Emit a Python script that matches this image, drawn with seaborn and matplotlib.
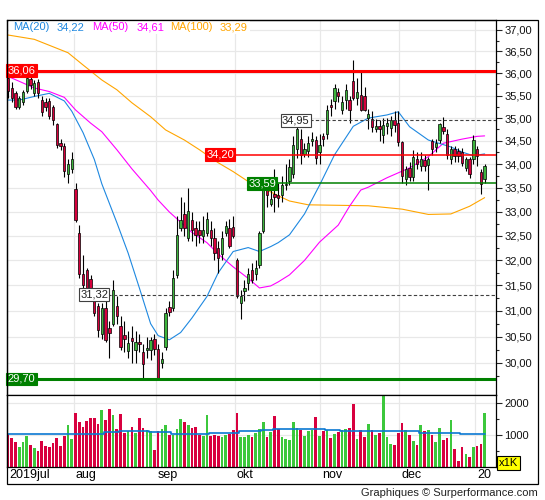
import numpy as np
import pandas as pd
import seaborn as sns
import matplotlib.pyplot as plt
import matplotlib.transforms as mtransforms
from matplotlib.patches import Rectangle
from matplotlib.ticker import FixedLocator, FuncFormatter, NullFormatter

# =========================
# Data (daily candles, jul 2019 -> jan 2020)
# =========================
open_ = [35.90, 35.67, 35.56, 35.25, 35.35, 35.60, 35.88, 35.56, 35.80, 35.41,
         35.35, 35.38, 35.25, 34.87, 34.46, 34.38, 33.80, 33.90, 33.47, 32.55,
         31.73, 31.80, 31.62, 31.28, 31.10, 30.55, 31.06, 30.66, 30.74, 31.10,
         30.70, 30.53, 30.22, 30.48, 30.25, 30.40, 30.20, 30.25, 30.25, 30.45,
         30.27, 30.00, 30.30, 31.07, 31.06, 31.70, 32.65, 32.95, 32.45, 32.82,
         32.65, 32.62, 32.50, 32.55, 32.62, 32.45, 32.25, 32.12, 32.55, 32.67,
         32.68, 32.00, 31.15, 31.38, 31.55, 31.80, 31.72, 31.90, 32.60, 33.55,
         33.16, 33.37, 33.35, 33.35, 33.55, 33.65, 33.80, 34.32, 34.55, 34.21,
         34.28, 34.50, 34.53, 34.25, 34.60, 34.65, 35.30, 35.38, 35.57, 35.18,
         35.41, 35.41, 35.82, 35.45, 35.52, 35.50, 35.00, 34.98, 34.76, 34.82,
         34.64, 34.82, 34.78, 34.95, 34.90, 34.47, 33.68, 33.92, 33.72, 34.10,
         33.95, 34.08, 33.98, 34.49, 34.36, 34.53, 34.80, 34.66, 34.12, 34.32,
         34.28, 34.25, 33.92, 34.10, 34.10, 34.32, 33.83, 33.68]
high = [35.95, 35.80, 35.60, 35.50, 35.62, 36.00, 36.00, 35.85, 35.88, 35.50,
        35.45, 35.45, 35.30, 34.90, 34.55, 34.45, 34.10, 34.25, 33.60, 32.72,
        32.10, 31.85, 31.70, 31.35, 31.15, 31.15, 31.20, 30.80, 31.60, 31.30,
        30.90, 30.80, 30.60, 30.70, 30.60, 30.55, 30.35, 30.50, 30.50, 30.55,
        30.35, 30.20, 31.05, 31.20, 31.80, 32.90, 33.30, 33.20, 33.50, 33.00,
        32.80, 32.80, 32.90, 33.00, 32.80, 32.65, 32.40, 32.60, 32.80, 32.85,
        32.90, 32.05, 31.40, 31.60, 31.85, 31.95, 32.00, 32.60, 33.50, 33.70,
        33.70, 33.90, 33.60, 33.75, 34.00, 34.10, 34.60, 34.96, 34.75, 34.45,
        34.60, 34.70, 34.60, 34.65, 34.68, 35.30, 35.42, 35.75, 35.68, 35.50,
        35.75, 35.50, 36.30, 35.90, 36.05, 35.70, 35.20, 35.15, 34.98, 34.95,
        35.00, 35.00, 35.05, 35.15, 35.15, 34.50, 33.95, 34.05, 34.30, 34.25,
        34.25, 34.20, 34.15, 34.55, 34.55, 34.90, 35.02, 34.75, 34.40, 34.40,
        34.35, 34.35, 34.15, 34.15, 34.62, 34.40, 33.90, 34.00]
low = [35.45, 35.35, 35.20, 35.20, 35.30, 35.55, 35.65, 35.50, 35.45, 35.05,
       35.15, 34.98, 34.85, 34.35, 34.30, 33.72, 33.60, 33.82, 32.78, 31.65,
       31.45, 31.35, 31.30, 30.90, 30.50, 30.45, 30.40, 30.10, 30.70, 30.75,
       30.25, 30.20, 30.10, 30.00, 30.00, 30.20, 29.72, 30.10, 30.05, 30.15,
       29.68, 29.90, 30.25, 30.90, 31.00, 31.65, 32.60, 32.50, 32.40, 32.40,
       32.30, 32.35, 32.35, 32.50, 32.30, 32.00, 31.75, 32.00, 32.50, 32.25,
       32.45, 31.25, 30.85, 31.20, 31.40, 31.55, 31.60, 31.85, 32.55, 33.10,
       33.12, 33.00, 33.10, 33.20, 33.45, 33.55, 33.70, 34.14, 34.00, 34.15,
       34.15, 34.40, 34.00, 34.00, 34.40, 34.55, 35.05, 35.20, 35.35, 35.10,
       35.20, 34.90, 35.40, 35.30, 35.15, 35.15, 34.75, 34.70, 34.70, 34.50,
       34.45, 34.65, 34.60, 34.70, 34.40, 33.60, 33.55, 33.65, 33.65, 33.90,
       33.85, 33.85, 33.45, 34.20, 34.25, 34.45, 34.65, 34.10, 34.00, 34.05,
       34.05, 33.95, 33.85, 33.70, 34.00, 33.95, 33.37, 33.60]
close = [35.60, 35.45, 35.25, 35.45, 35.57, 35.90, 35.74, 35.78, 35.56, 35.14,
         35.25, 35.05, 34.96, 34.42, 34.38, 33.85, 34.00, 34.10, 32.82, 31.72,
         31.50, 31.45, 31.40, 30.96, 30.63, 31.06, 30.43, 30.57, 31.40, 30.90,
         30.30, 30.45, 30.37, 30.42, 30.40, 30.35, 29.98, 30.28, 30.43, 30.27,
         29.72, 30.08, 30.95, 30.98, 31.65, 32.52, 32.82, 32.65, 33.02, 32.62,
         32.52, 32.52, 32.62, 32.85, 32.45, 32.15, 32.05, 32.45, 32.70, 32.30,
         32.50, 31.30, 31.30, 31.45, 31.72, 31.60, 31.85, 32.55, 33.45, 33.35,
         33.27, 33.30, 33.28, 33.56, 33.58, 33.93, 34.42, 34.75, 34.20, 34.32,
         34.46, 34.54, 34.14, 34.42, 34.55, 35.18, 35.25, 35.68, 35.50, 35.35,
         35.63, 35.18, 35.45, 35.57, 35.18, 35.18, 35.10, 34.80, 34.82, 34.76,
         34.85, 34.90, 34.96, 34.85, 34.47, 33.75, 33.89, 33.72, 34.15, 34.00,
         34.12, 33.95, 34.10, 34.32, 34.46, 34.86, 34.72, 34.20, 34.33, 34.18,
         34.18, 34.03, 34.10, 33.79, 34.53, 34.18, 33.58, 33.97]
volume = [1020, 900, 770, 615, 770, 960, 680, 580, 490, 800, 645, 615, 740, 900, 645, 960, 1300, 865,
          1680, 1400, 1240, 1430, 1520, 1520, 1330, 1770, 1460, 1800, 1615, 1180, 1650, 1050, 1115, 1240,
          1050, 1520, 1210, 1145, 1115,
          520, 1115, 1180, 1300, 990, 990, 1180, 1490, 1400, 1300, 1210, 1240, 990, 960, 1615, 960, 990,
          960, 930, 990, 1020,
          1145, 1680, 930, 930, 990, 930, 1050, 1180, 1400, 930, 1080, 1580, 1180, 930, 865, 835, 1400,
          1210, 1145, 960, 1115, 1145, 1550, 960,
          1115, 1145, 900, 1020, 1080, 1145, 1180, 1210, 1960, 865, 1145, 930, 1330, 1145, 990, 1050,
          2240, 930, 710, 680,
          1050, 1365, 1145, 990, 800, 680, 1300, 1115, 1145, 990, 770, 1210, 835, 900, 1460, 550, 180,
          615, 400, 300,
          615, 645, 710, 1680]
volume_ma = [1040, 1040, 1040, 1040, 1040, 1040, 1040, 1010, 1010, 1010, 1010, 1010, 1010, 1010,
             1010, 1010, 1010, 1010, 1010, 1010, 1010, 1040, 1040, 1040, 1040, 1040, 1080, 1080,
             1080, 1080, 1115, 1115, 1115, 1115, 1115, 1115, 1115, 1115, 1080, 1080, 1080, 1080,
             1080, 1080, 1040, 1040, 1040, 1040, 1040, 1040, 1040, 1040, 1040, 1040, 1070, 1070,
             1070, 1070, 1070, 1070, 1070, 1070, 1115, 1115, 1115, 1115, 1115, 1115, 1145, 1145,
             1145, 1180, 1180, 1180, 1180, 1180, 1180, 1180, 1180, 1180, 1180, 1180, 1180, 1180,
             1180, 1145, 1145, 1145, 1145, 1115, 1115, 1115, 1115, 1115, 1115, 1115, 1115, 1115,
             1115, 1115, 1115, 1115, 1115, 1115, 1115, 1115, 1115, 1115, 1115, 1115, 1070, 1070,
             1070, 1070, 1070, 1070, 1070, 1070, 1070, 1070, 1070, 1040, 1040, 1040, 1010, 1010,
             1010, 1010]

# moving averages (bar index, value)
ma20_idx = [0, 3, 7, 11, 15, 17, 20, 23, 25, 29, 32, 35, 38, 40, 43, 46, 49, 53, 56, 60, 64, 67,
            70, 72, 75, 79, 83, 87, 92, 96, 101, 104, 107, 112, 118, 121, 124, 127]
ma20 = [35.40, 35.40, 35.48, 35.55, 35.38, 35.15, 34.68, 34.10, 33.58, 32.77, 32.15, 31.45, 30.75,
        30.52, 30.44, 30.58, 30.86, 31.28, 31.75, 32.18, 32.26, 32.18, 32.28, 32.36, 32.52, 32.95,
        33.55, 34.20, 34.82, 35.00, 35.07, 35.14, 34.81, 34.52, 34.37, 34.26, 34.18, 34.22]
ma50_idx = [0, 3, 7, 11, 15, 18, 22, 25, 29, 33, 38, 40, 43, 46, 49, 53, 56, 60, 64, 67, 70, 72,
            75, 79, 83, 88, 91, 94, 96, 101, 107, 112, 116, 121, 125, 127]
ma50 = [35.93, 35.82, 35.67, 35.59, 35.46, 35.18, 34.89, 34.70, 34.31, 33.90, 33.44, 33.24, 32.99,
        32.78, 32.57, 32.36, 32.13, 31.87, 31.64, 31.45, 31.49, 31.57, 31.71, 32.00, 32.37, 32.72,
        33.11, 33.45, 33.51, 33.71, 33.92, 34.16, 34.45, 34.54, 34.60, 34.61]
ma100_idx = [0, 7, 16, 20, 25, 29, 33, 38, 42, 47, 51, 56, 60, 64, 69, 72, 75, 80, 88, 96, 105,
             112, 118, 123, 127]
ma100 = [36.88, 36.78, 36.47, 36.19, 35.85, 35.63, 35.34, 35.03, 34.74, 34.52, 34.31, 34.03, 33.84,
         33.63, 33.45, 33.33, 33.22, 33.14, 33.13, 33.12, 33.05, 32.94, 32.95, 33.11, 33.29]

month_labels = ["2019jul", "aug", "sep", "okt", "nov", "dec", "20"]
month_pos = [-0.27, 17.5, 39.3, 60.4, 83.2, 104.3, 124.4]

GREEN = "#3cb43c"
RED = "#d6003c"
VGREEN = "#3cc83c"
VRED = "#d8003f"
BLUE = "#1e88e0"
MAGENTA = "#ff00ff"
ORANGE = "#ffa500"
GRID = "#e8e8e8"

sns.set_style("white")
plt.rcParams["font.family"] = ["Liberation Sans", "DejaVu Sans"]

W, H = 545, 500
def fx(px):
    return px / W
def fy(py):
    return 1 - py / H

df = pd.DataFrame({"open": open_, "high": high, "low": low, "close": close, "volume": volume,
                   "volume_ma": volume_ma})
df["idx"] = np.arange(len(df))
up = df["close"] >= df["open"]

fig = plt.figure(figsize=(W / 100, H / 100), dpi=100)
ax = fig.add_axes([fx(7), fy(395), fx(496) - fx(7), fy(20) - fy(395)])
axv = fig.add_axes([fx(7), fy(467), fx(496) - fx(7), fy(395) - fy(467)])

# =========================
# Price panel
# =========================
ax.set_yscale("log")
ax.set_ylim(29.40, 37.23)
ax.set_xlim(-0.27, 130.03)

major = [30.0 + 0.5 * k for k in range(15)]
minor = [29.75 + 0.5 * k for k in range(15)]
for v in major:
    ax.axhline(v, color=GRID, lw=0.9, zorder=0)
for p in month_pos[1:]:
    ax.axvline(p, color=GRID, lw=0.9, zorder=0)
    axv.axvline(p, color=GRID, lw=0.9, zorder=0)

sns.lineplot(x=ma100_idx, y=ma100, ax=ax, color=ORANGE, lw=0.8, zorder=2)
sns.lineplot(x=ma50_idx, y=ma50, ax=ax, color=MAGENTA, lw=0.8, zorder=2)
sns.lineplot(x=ma20_idx, y=ma20, ax=ax, color=BLUE, lw=0.8, zorder=2)

ax.vlines(df["idx"], df["low"], df["high"], color="black", lw=0.8, zorder=3)
body_lo = np.minimum(df["open"], df["close"])
body_h = np.maximum((df["close"] - df["open"]).abs(), 0.02)
ax.bar(df["idx"], body_h, bottom=body_lo, width=0.62,
       color=np.where(up, GREEN, RED), edgecolor="black", linewidth=0.5, zorder=4)

# horizontal levels
ax.axhline(36.06, color="#ff0000", lw=2.2, zorder=5)
ax.axhline(29.70, color="#008000", lw=2.2, zorder=5)
ax.hlines(34.20, 52.8, 130.03, color="#ff0000", lw=1.1, zorder=5)
ax.hlines(33.59, 64.0, 130.03, color="#008000", lw=1.1, zorder=5)
ax.hlines(34.95, 73.0, 130.03, color="#404040", lw=0.8, linestyles=(0, (3, 2)), zorder=5)
ax.hlines(31.32, 19.2, 130.03, color="#404040", lw=0.8, linestyles=(0, (3, 2)), zorder=5)

def level_label(x, v, fc, tc="white", ec=None):
    ax.text(x, v, f"{v:.2f}".replace(".", ","), fontsize=8, color=tc, ha="left", va="center",
            zorder=7, bbox=dict(boxstyle="square,pad=0.12", fc=fc, ec=ec or fc, lw=0.8))

level_label(-0.1, 36.06, "#ff0000")
level_label(-0.1, 29.70, "#008000")
level_label(52.8, 34.20, "#ff0000")
level_label(64.0, 33.59, "#008000")
level_label(73.0, 34.95, "white", tc="#202020", ec="#404040")
level_label(19.2, 31.32, "white", tc="#202020", ec="#404040")

fmt = FuncFormatter(lambda v, _: f"{v:.2f}".replace(".", ","))
ax.yaxis.tick_right()
ax.yaxis.set_major_locator(FixedLocator(major))
ax.yaxis.set_minor_locator(FixedLocator(minor))
ax.yaxis.set_major_formatter(fmt)
ax.yaxis.set_minor_formatter(NullFormatter())
ax.tick_params(axis="y", which="major", right=True, length=4, width=0.8, pad=2,
               labelsize=8, labelcolor="#111111")
ax.tick_params(axis="y", which="minor", right=True, length=2.5, width=0.8)
ax.set_xticks([])
ax.set_xlabel("")
ax.set_ylabel("")

# =========================
# Volume panel
# =========================
axv.set_xlim(-0.27, 130.03)
axv.set_ylim(0, 2236)
for v in [1000, 2000]:
    axv.axhline(v, color=GRID, lw=0.9, zorder=0)
axv.bar(df["idx"], df["volume"], width=0.72, color=np.where(up, VGREEN, VRED), lw=0, zorder=2)
sns.lineplot(data=df, x="idx", y="volume_ma", ax=axv, color="#0a78d2", lw=1.2,
             drawstyle="steps-mid", zorder=3)
axv.yaxis.tick_right()
axv.yaxis.set_major_locator(FixedLocator([1000, 2000]))
axv.yaxis.set_minor_locator(FixedLocator([500, 1500]))
axv.yaxis.set_major_formatter(FuncFormatter(lambda v, _: f"{v:.0f}"))
axv.tick_params(axis="y", which="major", right=True, length=4, width=0.8, pad=2,
                labelsize=8, labelcolor="#111111")
axv.tick_params(axis="y", which="minor", right=True, length=2.5, width=0.8)
axv.set_xticks([])
axv.set_xlabel("")
axv.set_ylabel("")

for a in (ax, axv):
    for s in a.spines.values():
        s.set_visible(True)
        s.set_color("black")
        s.set_linewidth(0.9)

# month labels under the volume panel
tr = mtransforms.blended_transform_factory(axv.transData, fig.transFigure)
tr = mtransforms.offset_copy(tr, fig=fig, x=2, y=0, units="dots")
for p, lab in zip(month_pos, month_labels):
    axv.text(p, fy(475), lab, transform=tr, fontsize=9, ha="left", va="center", color="black")

# legend line at the top
fig.add_artist(Rectangle((fx(9), fy(34)), fx(250) - fx(9), fy(21) - fy(34), transform=fig.transFigure,
                         fc="white", ec="none", zorder=1))
legend_items = [("MA(20)", BLUE, 13), (f"{ma20[-1]:.2f}".replace(".", ","), BLUE, 57),
                ("MA(50)", MAGENTA, 92), (f"{ma50[-1]:.2f}".replace(".", ","), MAGENTA, 137),
                ("MA(100)", ORANGE, 170), (f"{ma100[-1]:.2f}".replace(".", ","), ORANGE, 220)]
for txt, col, px in legend_items:
    fig.text(fx(px), fy(27.5), txt, color=col, fontsize=8, ha="left", va="center", zorder=4)

# x1K badge
fig.text(fx(499), fy(463), "x1K", fontsize=8, ha="left", va="center", color="black", zorder=4,
         bbox=dict(boxstyle="square,pad=0.15", fc="#ffff00", ec="black", lw=0.8))

# outer frame and credit
fig.add_artist(Rectangle((fx(7), fy(484)), fx(538) - fx(7), fy(20) - fy(484), transform=fig.transFigure,
                         fill=False, ec="black", lw=0.9, zorder=5))
fig.text(fx(538), fy(493), "Graphiques \u00a9 Surperformance.com", fontsize=8, ha="right", va="center",
         color="#222222")

fig.savefig("out.png", dpi=100)
